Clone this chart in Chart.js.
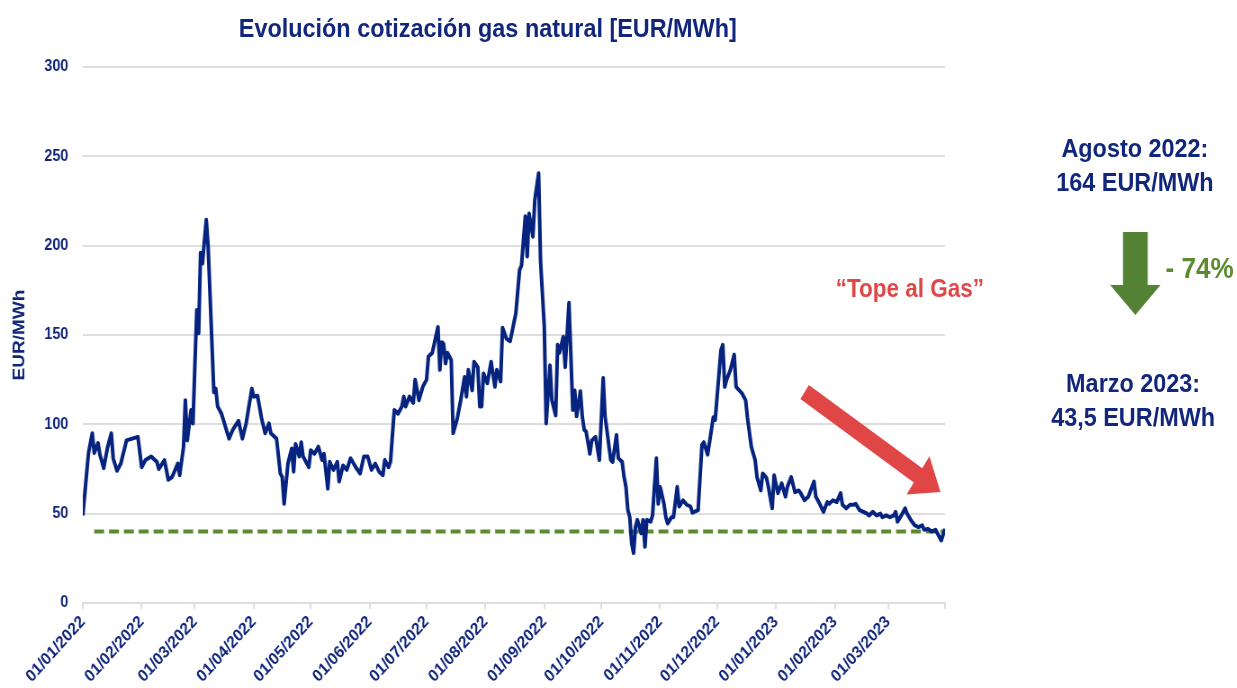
<!DOCTYPE html>
<html lang="es">
<head>
<meta charset="utf-8">
<title>Evolución cotización gas natural</title>
<script src="https://cdn.jsdelivr.net/npm/chart.js@4.4.1/dist/chart.umd.min.js"></script>
<style>
    html, body { margin: 0; padding: 0; background: #fff; overflow: hidden; }
    #page {
        position: absolute; left: 0; top: 0;
        width: 1375px; height: 688px;
        transform: scaleX(0.9); transform-origin: 0 0;
        font-family: "Liberation Sans", Arial, sans-serif;
        font-weight: bold;
    }
    #chart { position: absolute; left: 0; top: 0; }
    .note { position: absolute; white-space: nowrap; text-align: center; }
    .navy { color: #12277c; }
</style>
</head>
<body>
<div id="page">
    <canvas id="chart" width="1375" height="688" style="width:1375px;height:688px"></canvas>
    <div class="note navy" style="left:242px;width:600px;top:11px;font-size:26px;line-height:34px">Evolución cotización gas natural [EUR/MWh]</div>
    <div class="note" style="left:911px;width:200px;top:273px;font-size:25px;line-height:30px;color:#e04848">“Tope al Gas”</div>
    <div class="note navy" style="left:1161px;width:200px;top:131px;font-size:26px;line-height:34px">Agosto 2022:<br>164 EUR/MWh</div>
    <div class="note" style="left:1295px;top:251px;font-size:29px;line-height:34px;text-align:left;color:#5b8a2f">- 74%</div>
    <div class="note navy" style="left:1159px;width:200px;top:366px;font-size:26px;line-height:34px">Marzo 2023:<br>43,5 EUR/MWh</div>
</div>
<script>
// dias desde 01/01/2022 y precio (EUR/MWh)
const priceDays = [
    0, 3, 5, 6, 8, 9, 11, 13, 15, 16, 18, 20, 23, 26, 29,
    31, 33, 36, 39, 40, 43, 45, 47, 50, 51, 53, 54, 55, 57, 58,
    60, 61, 62, 63, 65, 66, 68, 69, 70, 71, 73, 75, 77, 79, 82, 84, 86, 89,
    90, 92, 94, 96, 98, 99, 102, 104, 105, 106, 108, 110, 111, 112, 114, 115, 116, 119,
    120, 122, 124, 126, 127, 129, 130, 132, 134, 135, 137, 139, 141, 144, 146, 148, 150,
    152, 154, 156, 158, 159, 161, 162, 164, 166, 168, 169, 170, 172, 174, 175, 177, 179,
    181, 182, 184, 187, 188, 189, 190, 191, 192, 194, 195, 197, 199, 201, 202, 203, 205, 206, 208, 209, 210,
    211, 213, 215, 217, 218, 220, 221, 223, 225, 228, 230, 231, 233, 234, 235, 237, 238, 240, 241,
    243, 244, 246, 247, 249, 250, 251, 253, 254, 256, 258, 259, 260, 262, 263, 264, 265, 267, 268, 270, 272,
    274, 275, 278, 279, 281, 282, 284, 285, 286, 287, 288, 289, 290, 291, 292, 294, 295, 296, 297, 299, 300, 302, 303,
    304, 306, 307, 308, 310, 311, 313, 314, 316, 318, 320, 321, 324, 326, 327, 329, 331, 332, 333,
    336, 337, 338, 339, 341, 343, 344, 347, 349, 350, 352, 354, 355, 357, 358, 360, 361, 363, 364,
    366, 368, 370, 371, 373, 375, 377, 378, 380, 382, 385, 386, 388, 390, 392, 393, 395,
    397, 399, 400, 402, 404, 406, 407, 409, 411, 413, 414, 416, 418, 420, 421, 423,
    425, 427, 428, 429, 431, 433, 434, 436, 438, 440, 442, 443, 445, 447, 449, 450, 452, 454
];
const prices = [
    49, 84, 95, 84, 89.5, 83, 75.5, 87, 95, 81, 74, 78, 91, 92, 93,
    76, 80, 82, 79, 75, 80, 69, 70.5, 78, 71.5, 87, 113.5, 91, 108, 100.5,
    164, 151, 196, 190, 214.5, 199.5, 145, 118, 120, 110, 106, 99, 92, 97, 102, 92, 100.5, 120,
    115.5, 116, 104, 95, 100.5, 95, 92, 72.5, 70.5, 55.5, 78, 86.5, 73.5, 89, 82, 90, 82, 76,
    85.5, 83.5, 87.5, 80, 83.5, 64, 79, 74.5, 79, 68, 77, 74.5, 81, 75.5, 72.5, 82, 82,
    74.5, 78, 73.5, 71.5, 80, 76, 79, 108, 106, 110, 115.5, 110, 115.5, 112, 125, 113.5, 121,
    125, 138, 140, 154.5, 130.5, 146, 145, 134, 140, 136, 95, 102.5, 113.5, 126.5, 115.5, 130.5, 119, 135, 132, 110, 110,
    128.5, 123, 135, 121, 130.5, 124, 154, 148, 146.5, 162, 186.5, 189, 216.5, 194, 218, 205, 225.5, 240.5, 192,
    154.5, 100.5, 133, 113.5, 105, 144.5, 140, 149, 132, 168, 108, 119, 104.5, 118.5, 104.5, 97, 96, 83.5, 91, 93, 80,
    126, 104.5, 80, 79, 94, 81, 79, 70.5, 65, 52, 48, 33.5, 28, 42.5, 46.5, 39, 46.5, 31.5, 46.5, 45.5, 49, 81, 55.5,
    65, 55.5, 48, 44.5, 48, 48, 65, 54, 57.5, 55, 54, 50.5, 52, 88.5, 90, 83, 97, 104, 102.5,
    141.5, 144.5, 121, 125, 130.5, 139, 121, 117.5, 113.5, 103.5, 87.5, 80, 70.5, 63, 72.5, 70, 65, 53, 71.5,
    61.5, 67, 59.5, 65, 70.5, 62, 63, 61.5, 57.5, 59.5, 68, 59.5, 55.5, 51, 56.5, 55.5, 57.5,
    56.5, 61.5, 55, 53, 55, 55, 55.5, 52, 51, 50, 49, 51, 49, 50, 48, 49,
    48, 49, 51, 45.5, 49, 53, 50, 46.5, 43.5, 42.5, 43.5, 41, 41.5, 40, 41, 39, 35, 41.5
];

// linea del tope al gas
const topeDays = [6, 454];
const topeLevel = 40;

// marcas del eje x: inicio de cada mes y final del periodo
const tickDays = [0, 31, 59, 90, 120, 151, 181, 212, 243, 273, 304, 334, 365, 396, 424, 454];
const tickLabels = ['01/01/2022', '01/02/2022', '01/03/2022', '01/04/2022', '01/05/2022', '01/06/2022',
    '01/07/2022', '01/08/2022', '01/09/2022', '01/10/2022', '01/11/2022', '01/12/2022',
    '01/01/2023', '01/02/2023', '01/03/2023', ''];

const navy = '#12277c';
const gridColor = '#dedede';

function drawArrow(ctx, x1, y1, x2, y2, shaftW, headL, headW, color) {
    const len = Math.hypot(x2 - x1, y2 - y1);
    const dx = (x2 - x1) / len, dy = (y2 - y1) / len;
    const nx = -dy, ny = dx;
    const bx = x2 - dx * headL, by = y2 - dy * headL;
    ctx.save();
    ctx.fillStyle = color;
    ctx.beginPath();
    ctx.moveTo(x1 + nx * shaftW / 2, y1 + ny * shaftW / 2);
    ctx.lineTo(bx + nx * shaftW / 2, by + ny * shaftW / 2);
    ctx.lineTo(bx + nx * headW, by + ny * headW);
    ctx.lineTo(x2, y2);
    ctx.lineTo(bx - nx * headW, by - ny * headW);
    ctx.lineTo(bx - nx * shaftW / 2, by - ny * shaftW / 2);
    ctx.lineTo(x1 - nx * shaftW / 2, y1 - ny * shaftW / 2);
    ctx.closePath();
    ctx.fill();
    ctx.restore();
}

const arrows = {
    id: 'arrows',
    afterDraw(chart) {
        const ctx = chart.ctx;
        drawArrow(ctx, 894, 392, 1045, 492, 17, 30, 23, '#e04646');
        drawArrow(ctx, 1261.5, 232, 1261.5, 315, 27.5, 30, 28, '#548235');
    }
};

new Chart(document.getElementById('chart'), {
    type: 'line',
    data: {
        datasets: [{
            label: 'Gas natural',
            data: prices.map((p, i) => ({ x: priceDays[i], y: p })),
            borderColor: '#06237f',
            borderWidth: 4,
            pointRadius: 0,
            tension: 0,
            borderJoinStyle: 'round'
        }, {
            label: 'Tope al gas',
            data: topeDays.map(d => ({ x: d, y: topeLevel })),
            borderColor: '#5a8a32',
            borderWidth: 4,
            borderDash: [11, 5.5],
            pointRadius: 0
        }]
    },
    options: {
        responsive: false,
        animation: false,
        devicePixelRatio: 1,
        layout: { padding: { top: 67, right: 325, left: 0, bottom: 0 } },
        plugins: {
            legend: { display: false },
            tooltip: { enabled: false }
        },
        scales: {
            x: {
                type: 'linear',
                min: 0,
                max: 454,
                afterBuildTicks: axis => { axis.ticks = tickDays.map(v => ({ value: v })); },
                afterFit: axis => { axis.height = 85; },
                border: { color: gridColor, width: 2 },
                grid: { drawOnChartArea: false, drawTicks: true, tickLength: 6, color: gridColor, lineWidth: 2 },
                ticks: {
                    autoSkip: false,
                    minRotation: 45,
                    maxRotation: 45,
                    padding: 3,
                    color: navy,
                    font: { family: 'Liberation Sans, Arial, sans-serif', size: 17, weight: 'bold' },
                    callback: (value, index) => tickLabels[index]
                }
            },
            y: {
                min: 0,
                max: 300,
                afterFit: axis => { axis.width = 92; },
                border: { display: false },
                grid: { color: gridColor, lineWidth: 2, drawTicks: false },
                ticks: {
                    stepSize: 50,
                    padding: 16,
                    color: navy,
                    font: { family: 'Liberation Sans, Arial, sans-serif', size: 16, weight: 'bold' }
                },
                title: {
                    display: true,
                    text: 'EUR/MWh',
                    color: navy,
                    padding: { top: 10, bottom: 0 },
                    font: { family: 'Liberation Sans, Arial, sans-serif', size: 19, weight: 'bold' }
                }
            }
        }
    },
    plugins: [arrows]
});
</script>
</body>
</html>
